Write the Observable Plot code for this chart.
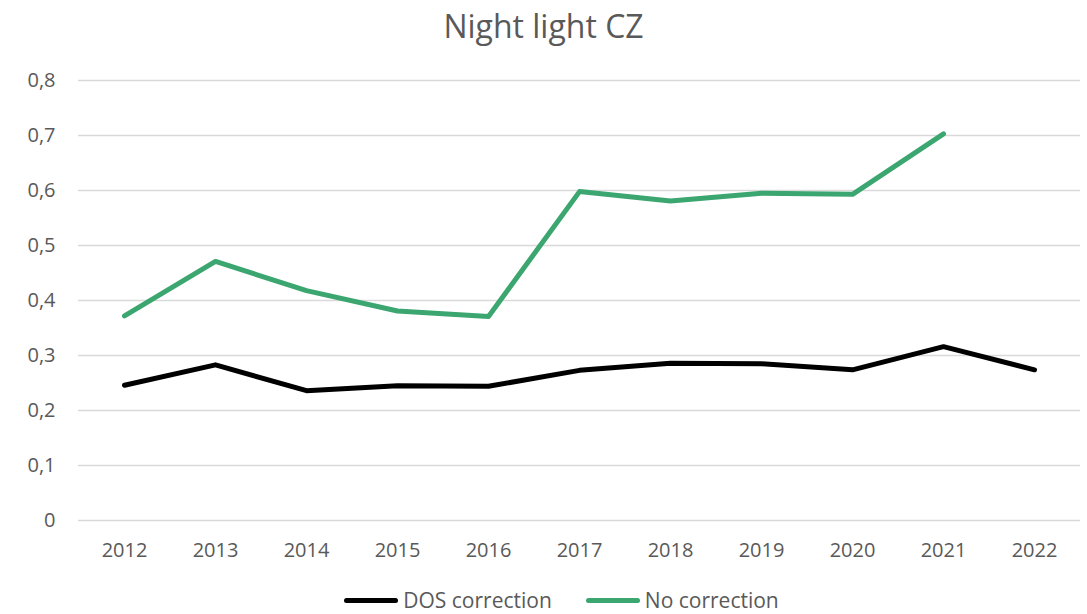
<!DOCTYPE html>
<html>
<head>
<meta charset="utf-8">
<script src="https://cdn.jsdelivr.net/npm/d3@7"></script>
<script src="https://cdn.jsdelivr.net/npm/@observablehq/plot@0.6"></script>
<style>
  html, body { margin: 0; padding: 0; background: #fff; }
  body { width: 1087px; height: 614px; overflow: hidden; font-family: "Open Sans", sans-serif; color: #595959; }
  #title { height: 50px; line-height: 52px; text-align: center; font-size: 32px; color: #595959; }
  #legend { display: flex; justify-content: center; align-items: center; height: 24px; line-height: 24px; font-size: 21px; color: #595959; margin-left: 36px; }
  .item { display: flex; align-items: center; margin: 0 17px; }
  .swatch { width: 54px; height: 5px; border-radius: 3px; margin-right: 5px; }
</style>
</head>
<body>
<div id="title">Night light CZ</div>
<div id="chart"></div>
<div id="legend"></div>
<script>
const years = ["2012","2013","2014","2015","2016","2017","2018","2019","2020","2021","2022"];
const dosCorrection = [0.246, 0.283, 0.236, 0.245, 0.244, 0.273, 0.286, 0.285, 0.274, 0.316, 0.274];
const noCorrection  = [0.372, 0.471, 0.418, 0.381, 0.371, 0.598, 0.581, 0.595, 0.593, 0.703, null];
const seriesNames = ["DOS correction", "No correction"];
const seriesColors = ["#000000", "#3BA66F"];
const yTicks = [0, 0.1, 0.2, 0.3, 0.4, 0.5, 0.6, 0.7, 0.8];
const yTickLabels = ["0", "0,1", "0,2", "0,3", "0,4", "0,5", "0,6", "0,7", "0,8"];

const rows = [];
years.forEach((y, i) => {
  rows.push({year: y, value: dosCorrection[i], series: seriesNames[0]});
  if (noCorrection[i] != null) rows.push({year: y, value: noCorrection[i], series: seriesNames[1]});
});

const chart = Plot.plot({
  width: 1087,
  height: 538,
  marginTop: 30,
  marginBottom: 68,
  marginLeft: 78,
  marginRight: 7,
  style: {fontFamily: "Open Sans, sans-serif", fontSize: "20px", color: "#595959", background: "#fff"},
  x: {type: "point", domain: years, padding: 0.5, label: null},
  y: {domain: [0, 0.8], label: null},
  color: {domain: seriesNames, range: seriesColors},
  marks: [
    Plot.ruleY(yTicks, {stroke: "#d9d9d9", strokeWidth: 1.3}),
    Plot.axisY(yTicks, {tickSize: 0, tickPadding: 23, label: null, tickFormat: (d) => yTickLabels[yTicks.indexOf(d)], fill: "#595959"}),
    Plot.axisX({tickSize: 0, tickPadding: 22, label: null, fill: "#595959"}),
    Plot.line(rows, {x: "year", y: "value", z: "series", stroke: "series", strokeWidth: 5, strokeLinecap: "round", strokeLinejoin: "round"})
  ]
});
document.getElementById("chart").appendChild(chart);
chart.style.display = "block";

const legend = document.getElementById("legend");
seriesNames.forEach((n, i) => {
  const item = document.createElement("div");
  item.className = "item";
  const sw = document.createElement("div");
  sw.className = "swatch";
  sw.style.background = seriesColors[i];
  const t = document.createElement("span");
  t.textContent = n;
  item.appendChild(sw); item.appendChild(t);
  legend.appendChild(item);
});
</script>
</body>
</html>
